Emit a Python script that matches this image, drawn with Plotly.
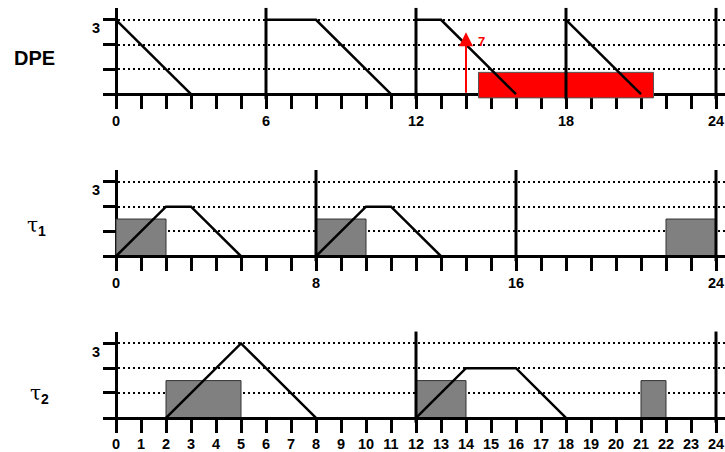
import plotly.graph_objects as go

# ---------------- data ----------------
# DPE panel
dpe_line_x = [0, 3, None, 6, 8, 11, None, 12, 13, 16, None, 18, 21]
dpe_line_y = [3, 0, None, 3, 3, 0, None, 3, 3, 0, None, 3, 0]
dpe_period_marks = [6, 12, 18, 24]
dpe_busy_start = [14.5]
dpe_busy_end = [21.5]
dpe_busy_low = [-0.15]
dpe_busy_high = [0.88]
dpe_arrival_time = 14
dpe_arrival_level = 2.5
dpe_arrival_label = "7"
dpe_label_pos = [14.63, 2.13]

# tau1 panel
tau1_line_x = [0, 2, 3, 5, None, 8, 10, 11, 13]
tau1_line_y = [0, 2, 2, 0, None, 0, 2, 2, 0]
tau1_period_marks = [8, 16, 24]
tau1_exec_start = [0, 8, 22]
tau1_exec_end = [2, 10, 24]
tau1_exec_level = [1.5, 1.5, 1.5]

# tau2 panel
tau2_line_x = [2, 5, 8, None, 12, 14, 16, 18]
tau2_line_y = [0, 3, 0, None, 0, 2, 2, 0]
tau2_period_marks = [12, 24]
tau2_exec_start = [2, 12, 21]
tau2_exec_end = [5, 14, 22]
tau2_exec_level = [1.5, 1.5, 1.5]

# axes / labels
y_tick_vals = [3]
y_tick_text = ["3"]
y_minor_vals = [1, 2]
major_dticks = [6, 8, 1]

# ---------------- geometry (pixels) ----------------
W, H = 725, 452
UNIT = 25.0
X0_PX = 116.0
X_LEFT_PX = 103.0
Y_BOTTOM = -0.2
Y_TOP = 3.48
axis_px = [95.0, 258.5, 421.5]           # pixel row of y = 0 in each panel
label_px = [(34.7, 58.5), (36.5, 228.0), (39.0, 398.0)]

x_range = [(X_LEFT_PX - X0_PX) / UNIT, (W - X0_PX) / UNIT]
x_domain = [X_LEFT_PX / W, 1.0]


def py(p):
    return 1.0 - p / H


fig = go.Figure()

panels = [
    dict(line_x=dpe_line_x, line_y=dpe_line_y, marks=dpe_period_marks),
    dict(line_x=tau1_line_x, line_y=tau1_line_y, marks=tau1_period_marks),
    dict(line_x=tau2_line_x, line_y=tau2_line_y, marks=tau2_period_marks),
]

# busy / execution rectangles (bars) first, so lines draw on top
fig.add_trace(go.Bar(
    x=[(s + e) / 2 for s, e in zip(dpe_busy_start, dpe_busy_end)],
    width=[e - s for s, e in zip(dpe_busy_start, dpe_busy_end)],
    base=dpe_busy_low,
    y=[h - l for h, l in zip(dpe_busy_high, dpe_busy_low)],
    marker=dict(color="#ff0000", line=dict(color="#555555", width=1)),
    xaxis="x", yaxis="y", showlegend=False, hoverinfo="skip"))

for k, (st, en, lv) in enumerate([(tau1_exec_start, tau1_exec_end, tau1_exec_level),
                                  (tau2_exec_start, tau2_exec_end, tau2_exec_level)]):
    idx = k + 2
    fig.add_trace(go.Bar(
        x=[(s + e) / 2 for s, e in zip(st, en)],
        width=[e - s for s, e in zip(st, en)],
        base=[0] * len(st), y=lv,
        marker=dict(color="#808080", line=dict(color="#333333", width=1)),
        xaxis=f"x{idx}", yaxis=f"y{idx}", showlegend=False, hoverinfo="skip"))

for i, p in enumerate(panels):
    suf = "" if i == 0 else str(i + 1)
    fig.add_trace(go.Scatter(
        x=p["line_x"], y=p["line_y"], mode="lines",
        line=dict(color="black", width=2.5),
        xaxis=f"x{suf}", yaxis=f"y{suf}", showlegend=False, hoverinfo="skip"))
    for m in p["marks"]:
        fig.add_shape(type="line", xref=f"x{suf}", yref=f"y{suf} domain",
                      x0=m, x1=m, y0=0, y1=1,
                      line=dict(color="black", width=3))

tick_font = dict(family="Liberation Sans, Arial, sans-serif", size=14.5,
                 color="black", weight="bold")

layout = dict(
    width=W, height=H, margin=dict(l=0, r=0, t=0, b=0),
    paper_bgcolor="white", plot_bgcolor="white",
    showlegend=False, bargap=0,
)

for i in range(3):
    suf = "" if i == 0 else str(i + 1)
    a = axis_px[i]
    top_px = a - Y_TOP * UNIT
    bot_px = a - Y_BOTTOM * UNIT
    layout[f"xaxis{suf}"] = dict(
        domain=x_domain, range=x_range, anchor="free", position=py(a),
        showline=True, linecolor="black", linewidth=3,
        layer="below traces" if i == 0 else "above traces",
        tickmode="linear", tick0=0, dtick=major_dticks[i],
        ticks="outside", ticklen=13, tickwidth=3, tickcolor="black",
        minor=dict(tick0=0, dtick=1, ticks="outside", ticklen=13,
                   tickwidth=3, tickcolor="black", showgrid=False),
        showgrid=False, zeroline=True, zerolinecolor="black", zerolinewidth=3,
        tickfont=tick_font, ticklabelstandoff=-1, fixedrange=True,
    )
    layout[f"yaxis{suf}"] = dict(
        domain=[py(bot_px), py(top_px)], range=[Y_BOTTOM, Y_TOP],
        anchor="free", position=X0_PX / W,
        showline=False, zeroline=False,
        tickmode="array", tickvals=y_tick_vals, ticktext=y_tick_text,
        ticks="outside", ticklen=13, tickwidth=3, tickcolor="black",
        showgrid=True, gridcolor="black", gridwidth=2, griddash="2px,3px",
        minor=dict(tickmode="array", tickvals=y_minor_vals, ticks="outside",
                   ticklen=13, tickwidth=3, tickcolor="black",
                   showgrid=True, gridcolor="black", gridwidth=2,
                   griddash="2px,3px"),
        tickfont=tick_font, ticklabelshift=8, fixedrange=True,
    )

fig.update_layout(**layout)

# arrival arrow in DPE panel
fig.add_annotation(x=dpe_arrival_time, y=dpe_arrival_level, xref="x", yref="y",
                   ax=dpe_arrival_time, ay=0, axref="x", ayref="y",
                   text="", showarrow=True, arrowhead=2, arrowsize=1.4,
                   arrowwidth=2, arrowcolor="#ff0000", standoff=0, startstandoff=0)
fig.add_annotation(x=dpe_label_pos[0], y=dpe_label_pos[1], xref="x", yref="y",
                   text=dpe_arrival_label, showarrow=False,
                   xanchor="center", yanchor="middle",
                   font=dict(family="Liberation Sans, Arial, sans-serif", size=13,
                             color="#ff0000", weight="bold"))

# panel names
fig.add_annotation(x=label_px[0][0] / W, y=py(label_px[0][1]), xref="paper", yref="paper",
                   text="DPE", showarrow=False, xanchor="center", yanchor="middle",
                   font=dict(family="Liberation Sans, Arial, sans-serif", size=20,
                             color="black", weight="bold"))
for j in (1, 2):
    fig.add_annotation(
        x=label_px[j][0] / W, y=py(label_px[j][1]), xref="paper", yref="paper",
        text=f"τ<sub><span style='font-family:Liberation Sans'><b>{j}</b></span></sub>",
        showarrow=False, xanchor="center", yanchor="middle",
        font=dict(family="DejaVu Serif, Liberation Serif, serif", size=20, color="black"))

fig.write_html("out.html",
               config={"displayModeBar": False, "staticPlot": True},
               post_script="document.body.style.margin='0';document.body.style.overflow='hidden';")
